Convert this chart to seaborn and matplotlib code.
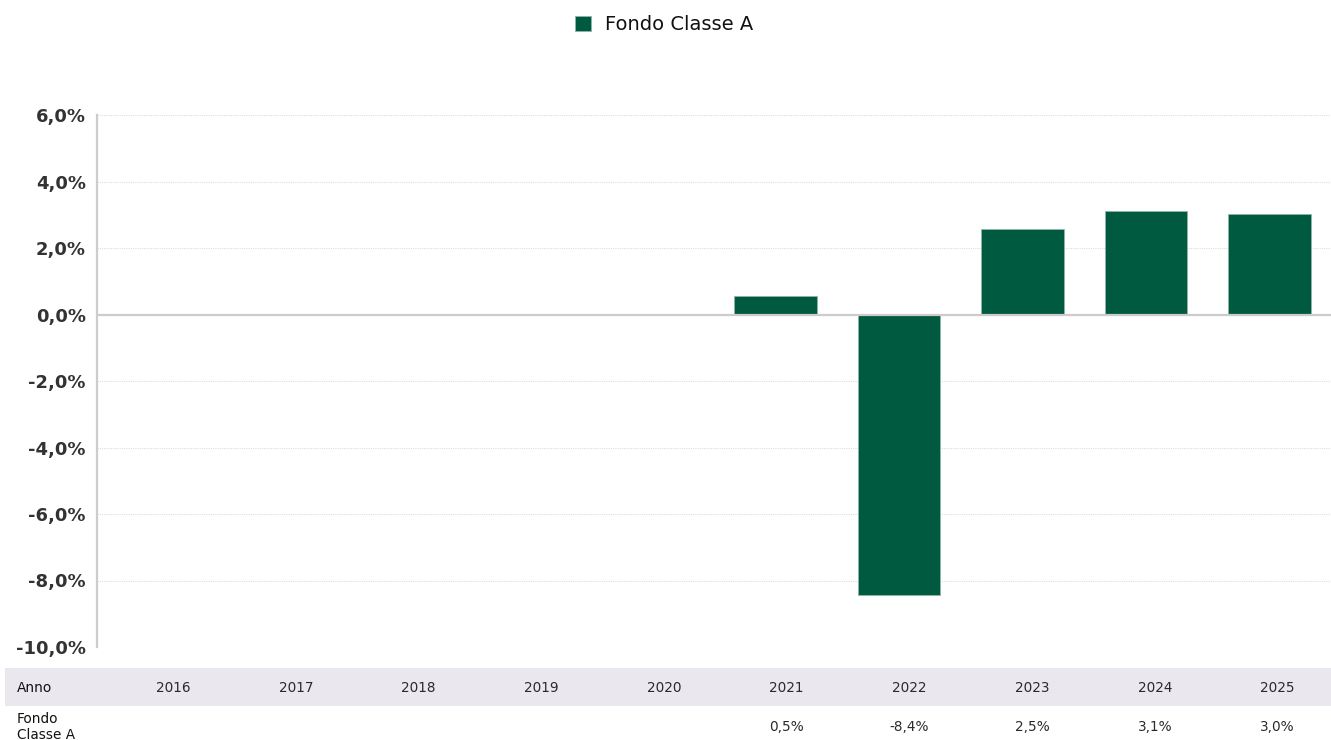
import matplotlib
matplotlib.use("Agg")
import matplotlib.pyplot as plt
import numpy as np
import pandas as pd
import seaborn as sns
from matplotlib.patches import Rectangle
from matplotlib.ticker import FuncFormatter

YEARS = ["2016", "2017", "2018", "2019", "2020", "2021", "2022", "2023", "2024", "2025"]
RETURNS = [np.nan, np.nan, np.nan, np.nan, np.nan, 0.57, -8.43, 2.58, 3.10, 3.01]
RETURN_LABELS = ["", "", "", "", "", "0,5%", "-8,4%", "2,5%", "3,1%", "3,0%"]
SERIES = "Fondo Classe A"
GREEN = "#005a3f"
BAND = "#ebe7ee"


def pct(v, _pos):
    return f"{v:.1f}%".replace(".", ",")


def main():
    sns.set_style("white")
    plt.rcParams["font.family"] = ["DejaVu Sans"]

    df = pd.DataFrame({"anno": YEARS, "rendimento": RETURNS, "serie": SERIES})

    fig = plt.figure(figsize=(13.31, 7.40), dpi=100)
    ax = fig.add_axes((97 / 1331, 93 / 740, 1 - 97 / 1331, 532 / 740))

    sns.barplot(data=df, x="anno", y="rendimento", hue="serie", order=YEARS,
                palette={SERIES: GREEN}, saturation=1, width=0.67,
                edgecolor="#8fb5a8", linewidth=0.6, legend=True, ax=ax)

    ax.set_ylim(-10, 6)
    ax.set_yticks(np.arange(-10, 7, 2))
    ax.yaxis.set_major_formatter(FuncFormatter(pct))
    ax.tick_params(axis="y", length=0, pad=8, labelsize=13, labelcolor="#333333")
    for t in ax.get_yticklabels():
        t.set_fontweight("bold")
    ax.set_xticks([])
    ax.set_xlabel(""); ax.set_ylabel("")
    ax.set_xlim(-0.5, len(YEARS) - 0.5)

    ax.grid(axis="y", color="#dddddd", linestyle=(0, (1, 1)), linewidth=0.8)
    ax.set_axisbelow(True)
    ax.axhline(0, color="#cccccc", linewidth=1.6, zorder=1)
    for s in ("top", "right", "bottom"):
        ax.spines[s].set_visible(False)
    ax.spines["left"].set_color("#cccccc")
    ax.spines["left"].set_linewidth(1.6)

    handles, labels = ax.get_legend_handles_labels()
    ax.get_legend().remove()
    leg = fig.legend(handles, labels, loc="center", bbox_to_anchor=(664 / 1331, 1 - 25 / 740),
                     frameon=False, fontsize=14, handlelength=0.83, handleheight=0.83,
                     handletextpad=0.7)
    for t in leg.get_texts():
        t.set_color("#111111")

    # table under the chart
    fig.patches.append(Rectangle((5 / 1331, 34 / 740), 1 - 5 / 1331, 38 / 740,
                                 transform=fig.transFigure, facecolor=BAND,
                                 edgecolor="none", zorder=0))
    fig.text(17 / 1331, 1 - 688 / 740, "Anno", fontsize=9.8, color="#111111",
             ha="left", va="center")
    fig.text(17 / 1331, 1 - 727 / 740, "Fondo\nClasse A", fontsize=9.8, color="#111111",
             ha="left", va="center", linespacing=1.15)
    for i, (yr, lab) in enumerate(zip(df["anno"], RETURN_LABELS)):
        xc = (173 + i * 122.75) / 1331
        fig.text(xc, 1 - 688 / 740, yr, fontsize=9.8, color="#2a2a2a",
                 ha="center", va="center")
        if lab:
            fig.text(xc, 1 - 727 / 740, lab, fontsize=9.8, color="#2a2a2a",
                     ha="center", va="center")

    fig.savefig("out.png", dpi=100)
    plt.close(fig)


if __name__ == "__main__":
    main()
